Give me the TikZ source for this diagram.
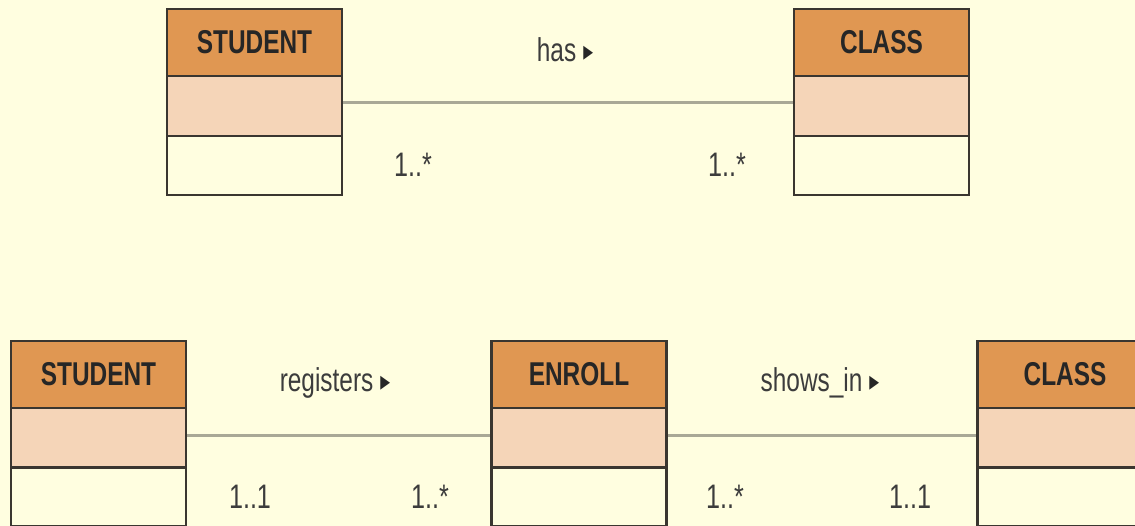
\documentclass[tikz,border=0pt]{standalone}
\usepackage{fontspec}
\setmainfont{Liberation Sans}
\newfontfamily\narrowfont[FakeStretch=0.74]{Liberation Sans}
\newfontfamily\narrowbold[FakeStretch=0.74]{Liberation Sans Bold}
\newfontfamily\symfont[FakeStretch=0.7]{DejaVu Sans}
\definecolor{bg}{HTML}{FFFEE0}
\definecolor{hdrfill}{HTML}{E09752}
\definecolor{attrfill}{HTML}{F5D5B8}
\definecolor{boxline}{HTML}{3A3630}
\definecolor{assoc}{HTML}{A9A896}
\definecolor{txt}{HTML}{3C3C3C}
\tikzset{
  hdr/.style={draw=boxline, fill=hdrfill, line width=2.8pt, minimum width=175pt, minimum height=67pt, inner sep=0pt, font=\narrowbold\fontsize{33}{33}\selectfont, text=black!85},
  attr/.style={draw=boxline, fill=attrfill, line width=2.8pt, minimum width=175pt, minimum height=60pt, inner sep=0pt},
  meth/.style={draw=boxline, fill=bg, line width=2.8pt, minimum width=175pt, minimum height=59pt, inner sep=0pt},
  assocline/.style={draw=assoc, line width=3pt},
  lbl/.style={inner sep=0pt, font=\narrowfont\fontsize{33}{33}\selectfont, text=txt},
  mult/.style={inner sep=0pt, font=\narrowfont\fontsize{34}{34}\selectfont, text=txt}
}
\newcommand{\tri}{\hspace{7pt}\raisebox{1pt}{\symfont\fontsize{28}{28}\selectfont\color{black!85}▸}}
\begin{document}
\begin{tikzpicture}[x=1pt,y=-1pt]
\fill[bg] (0,0) rectangle (1135,526);
\useasboundingbox (0,0) rectangle (1135,526);
\clip (0,0) rectangle (1135,526);
% top row
\node[meth] (s1m) at (254.5,165.5) {};
\node[attr] (s1a) at (254.5,106) {};
\node[hdr]  (s1h) at (254.5,42.5) {STUDENT};
\node[meth] (c1m) at (881.5,165.5) {};
\node[attr] (c1a) at (881.5,106) {};
\node[hdr]  (c1h) at (881.5,42.5) {CLASS};
\draw[assocline] ([yshift=3pt]s1a.east) -- ([yshift=3pt]c1a.west);
\node[lbl] (has) at (565,50) {has\tri};
\node[mult] (m1) at (413,165) {1..*};
\node[mult] (m2) at (727,165) {1..*};
% bottom row
\node[meth] (s2m) at (98.5,497) {};
\node[attr] (s2a) at (98.5,437.5) {};
\node[hdr]  (s2h) at (98.5,374.5) {STUDENT};
\node[meth] (e2m) at (579,497) {};
\node[attr] (e2a) at (579,437.5) {};
\node[hdr]  (e2h) at (579,374.5) {ENROLL};
\node[meth] (c2m) at (1065,497) {};
\node[attr] (c2a) at (1065,437.5) {};
\node[hdr]  (c2h) at (1065,374.5) {CLASS};
\draw[assocline] ([yshift=2.5pt]s2a.east) -- ([yshift=2.5pt]e2a.west);
\draw[assocline] ([yshift=2.5pt]e2a.east) -- ([yshift=2.5pt]c2a.west);
\node[lbl] (reg) at (335,383) {registers\tri};
\node[lbl] (shw) at (820,383) {shows\_in\tri};
\node[mult] (m3) at (250,497) {1..1};
\node[mult] (m4) at (430,497) {1..*};
\node[mult] (m5) at (725,497) {1..*};
\node[mult] (m6) at (910,497) {1..1};
\end{tikzpicture}
\end{document}
